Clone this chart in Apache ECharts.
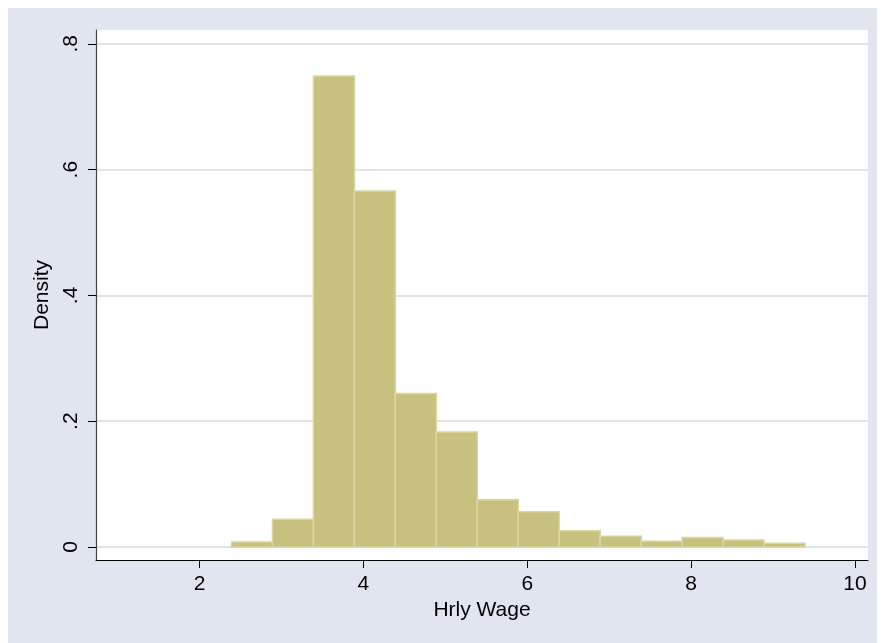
<!DOCTYPE html>
<html>
<head>
<meta charset="utf-8">
<script src="https://cdn.jsdelivr.net/npm/echarts@6/dist/echarts.min.js"></script>
<style>
  body { margin: 8px; background: #ffffff; }
  #chart { width: 877px; height: 635px; }
</style>
</head>
<body>
<div id="chart"></div>
<script>
// Histogram of hourly wage (bin left edges, width 0.5)
const binLeft = [2.39, 2.89, 3.39, 3.89, 4.39, 4.89, 5.39, 5.89, 6.39, 6.89, 7.39, 7.89, 8.39, 8.89];
const binWidth = 0.5;
const density = [0.008, 0.044, 0.749, 0.566, 0.244, 0.183, 0.075, 0.056, 0.026, 0.017, 0.009, 0.015, 0.011, 0.006];
const xTicks = [2, 4, 6, 8, 10];
const yTicks = [0, 0.2, 0.4, 0.6, 0.8];
const xTitle = 'Hrly Wage';
const yTitle = 'Density';

const data = binLeft.map((x, i) => [x, x + binWidth, density[i]]);
const font = 'Liberation Sans, Arial, sans-serif';

const chart = echarts.init(document.getElementById('chart'));
chart.setOption({
  backgroundColor: '#e1e5ef',
  animation: false,
  grid: {
    left: 88, top: 22, right: 17, bottom: 83,
    show: true, backgroundColor: '#ffffff', borderWidth: 0
  },
  xAxis: {
    type: 'value',
    min: 0.736, max: 10.159,
    name: xTitle, nameLocation: 'middle', nameGap: 36,
    nameTextStyle: { fontFamily: font, fontSize: 21, color: '#000' },
    axisLine: { show: true, onZero: false, lineStyle: { color: '#000', width: 1 } },
    axisTick: { show: true, length: 8, customValues: xTicks, lineStyle: { color: '#000' } },
    axisLabel: { customValues: xTicks, margin: 14, fontFamily: font, fontSize: 21, color: '#000' },
    splitLine: { show: false }
  },
  yAxis: {
    type: 'value',
    min: -0.0207, max: 0.822,
    name: yTitle, nameLocation: 'middle', nameGap: 37,
    nameTextStyle: { fontFamily: font, fontSize: 21, color: '#000' },
    axisLine: { show: true, onZero: false, lineStyle: { color: '#444', width: 1.2 } },
    axisTick: { show: true, length: 8, customValues: yTicks, lineStyle: { color: '#000' } },
    axisLabel: {
      customValues: yTicks, rotate: 90, margin: 14,
      fontFamily: font, fontSize: 21, color: '#000',
      formatter: v => (v === 0 ? '0' : String(+v.toFixed(2)).replace(/^0/, ''))
    },
    splitLine: { show: true, lineStyle: { color: '#dfe3ee', width: 2 } }
  },
  series: [{
    type: 'custom',
    data: data,
    encode: { x: [0, 1], y: 2 },
    renderItem: function (params, api) {
      const p0 = api.coord([api.value(0), api.value(2)]);
      const p1 = api.coord([api.value(1), 0]);
      return {
        type: 'rect',
        shape: { x: p0[0], y: p0[1], width: p1[0] - p0[0], height: p1[1] - p0[1] },
        style: { fill: '#c8c07e', stroke: '#dad5a0', lineWidth: 1.5 }
      };
    }
  }]
});
</script>
</body>
</html>
